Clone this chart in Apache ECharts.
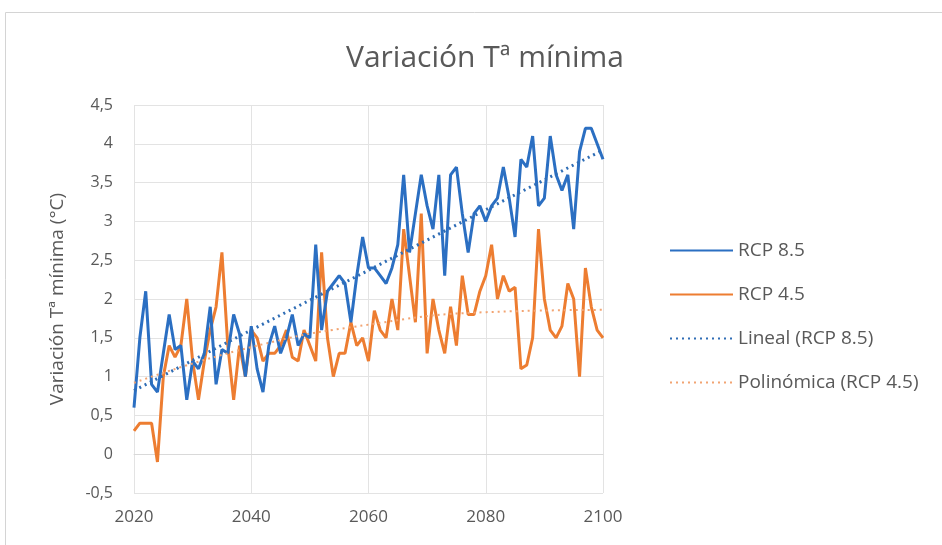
<!DOCTYPE html>
<html>
<head>
<meta charset="utf-8">
<script src="https://cdn.jsdelivr.net/npm/echarts@6/dist/echarts.min.js"></script>
<style>
  html, body { margin: 0; padding: 0; background: #fff; }
  #chart { width: 942px; height: 545px; }
</style>
</head>
<body>
<div id="chart"></div>
<script>
const startYear = 2020

// RCP 8.5, one value per year 2020..2100
const rcp85 = [
  0.6, 1.5, 2.1, 0.9, 0.8, 1.3, 1.8, 1.35, 1.4, 0.7,
  1.2, 1.1, 1.3, 1.9, 0.9, 1.35, 1.3, 1.8, 1.55, 1.0,
  1.65, 1.1, 0.8, 1.4, 1.65, 1.3, 1.5, 1.8, 1.4, 1.55,
  1.5, 2.7, 1.6, 2.1, 2.2, 2.3, 2.2, 1.7, 2.3, 2.8,
  2.4, 2.4, 2.3, 2.2, 2.4, 2.7, 3.6, 2.6, 3.1, 3.6,
  3.2, 2.9, 3.6, 2.3, 3.6, 3.7, 3.1, 2.6, 3.1, 3.2,
  3.0, 3.2, 3.3, 3.7, 3.3, 2.8, 3.8, 3.7, 4.1, 3.2,
  3.3, 4.1, 3.6, 3.4, 3.6, 2.9, 3.9, 4.2, 4.2, 4.0,
  3.8
]

// RCP 4.5, one value per year 2020..2100
const rcp45 = [
  0.3, 0.4, 0.4, 0.4, -0.1, 1.0, 1.4, 1.25, 1.4, 2.0,
  1.2, 0.7, 1.2, 1.6, 1.9, 2.6, 1.4, 0.7, 1.4, 1.0,
  1.6, 1.5, 1.2, 1.3, 1.3, 1.4, 1.6, 1.25, 1.2, 1.6,
  1.4, 1.2, 2.6, 1.5, 1.0, 1.3, 1.3, 1.7, 1.4, 1.5,
  1.2, 1.85, 1.6, 1.5, 2.0, 1.6, 2.9, 2.3, 1.7, 3.1,
  1.3, 2.0, 1.6, 1.3, 1.9, 1.4, 2.3, 1.8, 1.8, 2.1,
  2.3, 2.7, 2.0, 2.3, 2.1, 2.15, 1.1, 1.15, 1.5, 2.9,
  2.0, 1.6, 1.5, 1.65, 2.2, 2.0, 1.0, 2.4, 1.9, 1.6,
  1.5
]

// trendlines
const trendYears = [2020, 2040, 2060, 2080, 2100]
const lin85 = [0.82, 1.6, 2.37, 3.15, 3.92]
const poly45 = [0.92, 1.38, 1.67, 1.83, 1.86]

const yTicks = ['-0,5', '0', '0,5', '1', '1,5', '2', '2,5', '3', '3,5', '4', '4,5']

const years = rcp85.map((v, i) => startYear + i)

const blue = '#2b6fc2'
const orange = '#ed7d31'
const textColor = '#595959'
const font = '"Open Sans", "Noto Sans", sans-serif'

const chart = echarts.init(document.getElementById('chart'))
const option = {
  animation: false,
  backgroundColor: '#fff',
  textStyle: { fontFamily: font },
  title: {
    text: 'Variación Tª mínima',
    left: 480,
    textAlign: 'center',
    top: 38,
    textStyle: { fontSize: 30, fontWeight: 'normal', color: textColor, fontFamily: font }
  },
  graphic: [{
    type: 'rect',
    shape: { x: 5.5, y: 12.5, width: 940, height: 540 },
    style: { fill: 'none', stroke: '#d4d4d4', lineWidth: 1 },
    silent: true
  }],
  legend: {
    orient: 'vertical',
    left: 664,
    top: 236,
    itemWidth: 63,
    itemHeight: 14,
    itemGap: 25,
    itemStyle: { opacity: 0 },
    textStyle: { fontSize: 19, color: textColor, fontFamily: font },
    data: ['RCP 8.5', 'RCP 4.5', 'Lineal (RCP 8.5)', 'Polinómica (RCP 4.5)']
  },
  grid: { left: 134, right: 339, top: 105, bottom: 52, containLabel: false },
  xAxis: {
    type: 'value',
    min: 2020,
    max: 2100,
    interval: 20,
    axisLine: { show: true, lineStyle: { color: '#d9d9d9' } },
    axisTick: { show: false },
    axisLabel: { color: textColor, fontSize: 17, margin: 16, fontFamily: font, formatter: v => String(v) },
    splitLine: { show: true, lineStyle: { color: '#e3e3e3' } }
  },
  yAxis: {
    type: 'value',
    min: -0.5,
    max: 4.5,
    interval: 0.5,
    name: 'Variación Tª mínima (°C)',
    nameLocation: 'middle',
    nameGap: 67,
    nameTextStyle: { fontSize: 19, color: textColor, fontFamily: font },
    axisLine: { show: false },
    axisTick: { show: false },
    axisLabel: {
      color: textColor,
      fontSize: 16,
      margin: 21,
      fontFamily: font,
      formatter: v => yTicks[Math.round((v + 0.5) / 0.5)]
    },
    splitLine: { show: true, lineStyle: { color: '#e3e3e3' } }
  },
  series: [
    {
      name: 'RCP 8.5',
      type: 'line',
      data: years.map((y, i) => [y, rcp85[i]]),
      showSymbol: false,
      symbol: 'none',
      z: 4,
      color: blue,
      lineStyle: { color: blue, width: 3 }
    },
    {
      name: 'RCP 4.5',
      type: 'line',
      data: years.map((y, i) => [y, rcp45[i]]),
      showSymbol: false,
      symbol: 'none',
      z: 3,
      color: orange,
      lineStyle: { color: orange, width: 3 }
    },
    {
      name: 'Lineal (RCP 8.5)',
      type: 'line',
      data: trendYears.map((y, i) => [y, lin85[i]]),
      showSymbol: false,
      symbol: 'none',
      z: 5,
      color: '#2f6db5',
      lineStyle: { color: '#2f6db5', width: 3, type: [2, 4] }
    },
    {
      name: 'Polinómica (RCP 4.5)',
      type: 'line',
      data: trendYears.map((y, i) => [y, poly45[i]]),
      showSymbol: false,
      symbol: 'none',
      smooth: true,
      z: 5,
      color: '#f2a472',
      lineStyle: { color: '#f2a472', width: 2, type: [2, 4] }
    }
  ]
}
chart.setOption(option)
</script>
</body>
</html>
